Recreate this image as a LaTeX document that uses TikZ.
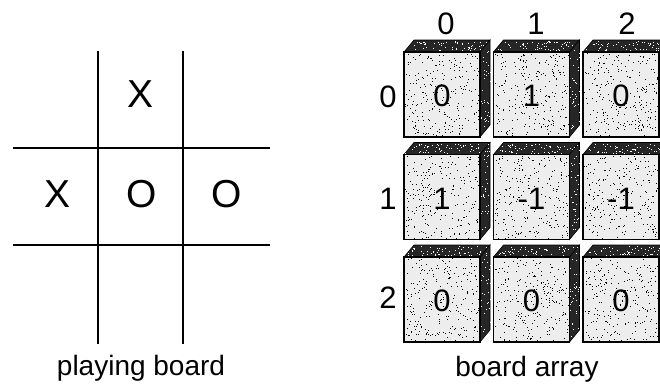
\documentclass[tikz,border=0pt]{standalone}
\usepackage{fontspec}
\setmainfont{Liberation Sans}
\tikzset{
  xo/.style={font=\fontsize{39}{39}\selectfont, inner sep=0pt},
  idx/.style={font=\fontsize{31}{31}\selectfont, inner sep=0pt},
  lbl/.style={font=\fontsize{28}{28}\selectfont, inner sep=0pt, anchor=base},
  gridline/.style={line width=1.6pt},
  frontface/.style={draw=black, line width=1.2pt, fill=black!7},
  darkface/.style={fill=black!85, draw=black, line width=0.6pt}
}
\begin{document}
\begin{tikzpicture}[x=1pt,y=-1pt]
\clip (0,0) rectangle (660,383);
\fill[white] (0,0) rectangle (660,383);
% playing board
\draw[gridline] (98,51) -- (98,344);
\draw[gridline] (183,51) -- (183,344);
\draw[gridline] (13,148) -- (270,148);
\draw[gridline] (13,245) -- (270,245);
\node[xo] (m01) at (141,94) {X};
\node[xo] (m10) at (58,194) {X};
\node[xo] (m11) at (142,194) {O};
\node[xo] (m12) at (227,194) {O};
\node[lbl] (cap1) at (141,375) {playing board};
% board array
\pgfmathsetseed{12}
\foreach \r/\c/\v in {0/0/0,0/1/1,0/2/0,1/0/1,1/1/-1,1/2/-1,2/0/0,2/1/0,2/2/0}{
  \pgfmathsetmacro\xa{404+\c*89.5}
  \pgfmathsetmacro\ya{52+\r*102.5}
  \filldraw[darkface] (\xa,\ya) -- ++(10,-12) -- ++(76,0) -- ++(-10,12) -- cycle;
  \filldraw[darkface] (\xa+76,\ya) -- ++(10,-12) -- ++(0,85) -- ++(-10,12) -- cycle;
  \foreach \k in {1,...,60}{
    \pgfmathsetmacro\tt{rnd}
    \fill[white] ({\xa+1+10*\tt+74*rnd},{\ya-1-10*\tt}) rectangle ++(0.9,0.9);
  }
  \foreach \k in {1,...,35}{
    \pgfmathsetmacro\tt{rnd}
    \fill[white] ({\xa+76+10*\tt},{\ya-12*\tt+2+80*rnd}) rectangle ++(0.9,0.9);
  }
  \draw[frontface] (\xa,\ya) rectangle ++(76,85);
  \foreach \k in {1,...,240}{
    \fill[black] ({\xa+1+74*rnd},{\ya+1+83*rnd}) rectangle ++(0.9,0.9);
  }
  \node[idx] (v\r\c) at ({\xa+38},{\ya+44}) {\v};
}
\node[idx] (c0) at (446,24) {0};
\node[idx] (c1) at (536,24) {1};
\node[idx] (c2) at (627,24) {2};
\node[idx] (r0) at (388,97) {0};
\node[idx] (r1) at (388,199) {1};
\node[idx] (r2) at (388,298) {2};
\node[lbl] (cap2) at (527,376) {board array};
\end{tikzpicture}
\end{document}
